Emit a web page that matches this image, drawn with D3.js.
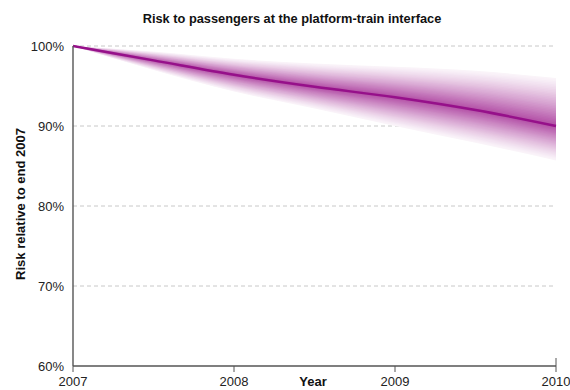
<!DOCTYPE html>
<html>
<head>
<meta charset="utf-8">
<script src="https://cdn.jsdelivr.net/npm/d3@7"></script>
<style>
  html, body { margin: 0; padding: 0; background: #fff; }
  svg { display: block; font-family: "Liberation Sans", Arial, sans-serif; }
</style>
</head>
<body>
<svg id="chart" width="570" height="390"></svg>
<script>
// Projected risk (percent of end-2007 level), half-yearly points
const years   = [2007, 2007.5, 2008, 2008.5, 2009, 2009.5, 2010];
const central = [100, 98.2, 96.4, 94.9, 93.6, 92.0, 90.0];
const upper   = [100, 99.3, 98.4, 97.8, 97.4, 96.9, 96.0];
const lower   = [100, 97.0, 94.3, 92.2, 90.0, 87.9, 85.7];

const xTicks = [2007, 2008, 2009, 2010];
const yTicks = [60, 70, 80, 90, 100];
const gridTicks = [70, 80, 90, 100];

const svg = d3.select("#chart");
const margin = { left: 73, right: 14, top: 46, bottom: 24 };
const W = 570, H = 390;

const x = d3.scaleLinear().domain([2007, 2010]).range([margin.left, W - margin.right]);
const y = d3.scaleLinear().domain([60, 100]).range([H - margin.bottom, margin.top]);

// Title
svg.append("text")
  .attr("x", 292).attr("y", 23)
  .attr("text-anchor", "middle")
  .attr("font-size", 12.8).attr("font-weight", "bold").attr("fill", "#111")
  .text("Risk to passengers at the platform-train interface");

// Dashed gridlines
svg.append("g").selectAll("line").data(gridTicks).join("line")
  .attr("x1", x(2007)).attr("x2", x(2010))
  .attr("y1", d => y(d)).attr("y2", d => y(d))
  .attr("stroke", "#c8c8c8").attr("stroke-width", 1)
  .attr("stroke-dasharray", "4,3");

// Fan of uncertainty bands: nested bands from outer (faint) to inner (dark)
const pts = years.map((yr, i) => ({ yr, c: central[i], u: upper[i], l: lower[i] }));
const N = 30;
const dark = "#9c1c8c";
const col = d3.interpolateRgb("#ffffff", dark);
const area = f => d3.area()
  .x(d => x(d.yr))
  .y0(d => y(d.c - (d.c - d.l) * f))
  .y1(d => y(d.c + (d.u - d.c) * f))
  .curve(d3.curveMonotoneX);

const fan = svg.append("g");
for (let i = N; i >= 1; i--) {
  const f = i / N;
  const t = 0.05 + 0.75 * Math.pow(1 - f, 1.2);
  fan.append("path")
    .datum(pts)
    .attr("d", area(f))
    .attr("fill", col(t));
}

// Central projection line
svg.append("path")
  .datum(pts)
  .attr("d", d3.line().x(d => x(d.yr)).y(d => y(d.c)).curve(d3.curveMonotoneX))
  .attr("fill", "none")
  .attr("stroke", "#96108a")
  .attr("stroke-width", 2.4);

// Axes
const axisColor = "#555";
svg.append("line")
  .attr("x1", x(2007)).attr("x2", x(2007))
  .attr("y1", y(100)).attr("y2", y(60))
  .attr("stroke", axisColor).attr("stroke-width", 1.4);
svg.append("line")
  .attr("x1", x(2007)).attr("x2", x(2010))
  .attr("y1", y(60)).attr("y2", y(60))
  .attr("stroke", axisColor).attr("stroke-width", 1.6);

// X ticks
svg.append("g").selectAll("line").data(xTicks).join("line")
  .attr("x1", d => x(d)).attr("x2", d => x(d))
  .attr("y1", d => d === 2010 ? y(60) - 8 : y(60))
  .attr("y2", y(60) + 6)
  .attr("stroke", axisColor).attr("stroke-width", 1);

svg.append("g").selectAll("text").data(xTicks).join("text")
  .attr("x", d => x(d)).attr("y", 386)
  .attr("text-anchor", "middle")
  .attr("font-size", 13).attr("fill", "#222")
  .text(d => d);

// Y tick labels
svg.append("g").selectAll("text").data(yTicks).join("text")
  .attr("x", 64).attr("y", d => y(d) + 4.5)
  .attr("text-anchor", "end")
  .attr("font-size", 13).attr("fill", "#222")
  .text(d => d + "%");

// Axis titles
svg.append("text")
  .attr("x", 313).attr("y", 386)
  .attr("text-anchor", "middle")
  .attr("font-size", 13).attr("font-weight", "bold").attr("fill", "#111")
  .text("Year");

svg.append("text")
  .attr("transform", "translate(25,204) rotate(-90)")
  .attr("text-anchor", "middle")
  .attr("font-size", 13).attr("font-weight", "bold").attr("fill", "#111")
  .text("Risk relative to end 2007");
</script>
</body>
</html>
